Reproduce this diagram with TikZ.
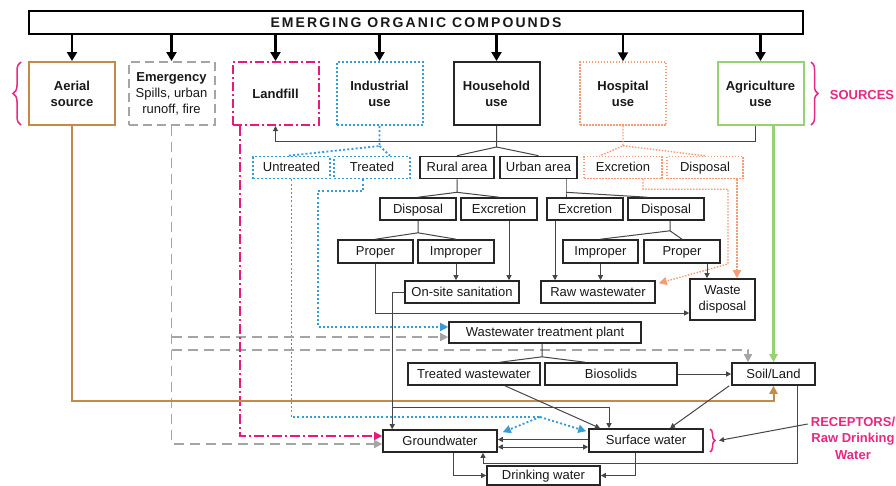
\documentclass[tikz,border=0pt]{standalone}
\usepackage{fontspec}
\setmainfont{Liberation Sans}
\usetikzlibrary{arrows.meta,decorations.pathreplacing}

\definecolor{aercol}{RGB}{196,138,72}
\definecolor{emcol}{RGB}{165,165,165}
\definecolor{lfcol}{RGB}{232,25,125}
\definecolor{indcol}{RGB}{55,155,215}
\definecolor{hospcol}{RGB}{246,155,120}
\definecolor{agcol}{RGB}{150,210,115}
\definecolor{labcol}{RGB}{232,40,130}
\definecolor{linecol}{RGB}{70,70,70}

\begin{document}
\begin{tikzpicture}[x=1pt,y=-1pt,
  every node/.style={font=\fontsize{13}{16}\selectfont, text=black!90},
  srcbox/.style={draw, line width=2pt, inner sep=0pt, align=center,
    minimum width=86pt, minimum height=63pt, font=\fontsize{13}{16}\selectfont\bfseries},
  box/.style={draw=black!85, line width=1.6pt, inner sep=0pt, minimum height=22pt,
    text height=10.5pt, text depth=2pt},
  multibox/.style={draw=black!85, line width=1.6pt, inner sep=0pt, align=center},
  indbox/.style={box, draw=indcol, line width=1.6pt, dash pattern=on 2pt off 2pt},
  hospbox/.style={box, draw=hospcol, line width=1.4pt, dash pattern=on 1.5pt off 1.5pt},
  conn/.style={draw=linecol, line width=1pt},
  smalltip/.style={-{Triangle[length=5pt,width=5pt]}},
  bothtips/.style={{Triangle[length=5pt,width=5pt]}-{Triangle[length=5pt,width=5pt]}},
  bigtip/.style={-{Triangle[length=8pt,width=8pt]}},
  toparrow/.style={draw=black, line width=2.2pt, -{Triangle[length=9pt,width=10pt]}},
  emline/.style={draw=emcol, line width=1.6pt, dash pattern=on 10pt off 6pt},
  lfline/.style={draw=lfcol, line width=1.6pt, dash pattern=on 10pt off 3pt on 2pt off 3pt},
  indline/.style={draw=indcol, line width=1.8pt, dash pattern=on 2pt off 2.2pt},
  hospline/.style={draw=hospcol, line width=1.4pt, dash pattern=on 1.5pt off 1.5pt},
  aerline/.style={draw=aercol, line width=2pt},
  agline/.style={draw=agcol, line width=2.2pt},
  pinkbrace/.style={draw=labcol, line width=1.5pt, decorate, decoration={brace, amplitude=#1}},
  labeltext/.style={text=labcol, font=\fontsize{13}{16.5}\selectfont\bfseries, align=center, inner sep=0pt},
]
\fill[white] (0,0) rectangle (896,485);
\useasboundingbox (0,0) rectangle (896,485);

% ---------- title ----------
\node[draw, line width=1.8pt, inner sep=0pt, minimum width=774pt, minimum height=23pt] (title) at (416,22.5)
  {\fontsize{14}{16}\selectfont\bfseries\addfontfeature{LetterSpace=15}EMERGING ORGANIC COMPOUNDS};

% ---------- sources ----------
\node[srcbox, draw=aercol] (aerial) at (72,93.5) {Aerial\\source};
\node[srcbox, draw=emcol, dash pattern=on 9pt off 5pt, font=\fontsize{13}{16}\selectfont] (emerg) at (171.5,93.5)
  {\textbf{Emergency}\\Spills, urban\\runoff, fire};
\node[srcbox, draw=lfcol, dash pattern=on 9pt off 3pt on 2pt off 3pt] (landfill) at (275.5,93.5) {Landfill};
\node[srcbox, draw=indcol, dash pattern=on 2pt off 2pt] (industrial) at (379.5,93.5) {Industrial\\use};
\node[srcbox, draw=black!85] (household) at (496.5,93.5) {Household\\use};
\node[srcbox, draw=hospcol, line width=1.5pt, dash pattern=on 1.5pt off 1.5pt] (hospital) at (623,93.5) {Hospital\\use};
\node[srcbox, draw=agcol] (agri) at (760.5,93.5) {Agriculture\\use};

\foreach \n in {aerial,emerg,landfill,industrial,household,hospital,agri}
  \draw[toparrow] (title.south -| \n.north) -- (\n.north);

\draw[pinkbrace=8pt] (21,125) -- (21,62);
\draw[pinkbrace=7pt] (811,62) -- (811,125);
\node[labeltext] (sources) at (862,95) {SOURCES};

% ---------- first split ----------
\node[indbox, minimum width=77pt] (untreated) at (291.5,167.5) {Untreated};
\node[indbox, minimum width=76pt] (treated) at (372,167.5) {Treated};
\node[box, minimum width=74pt] (rural) at (457,167.5) {Rural area};
\node[box, minimum width=77pt] (urban) at (538.5,167.5) {Urban area};
\node[hospbox, minimum width=78pt] (hexc) at (623,167.5) {Excretion};
\node[hospbox, minimum width=76pt] (hdisp) at (705,167.5) {Disposal};

% ---------- second split ----------
\node[box, minimum width=76pt] (rdisp) at (418,209) {Disposal};
\node[box, minimum width=76pt] (rexc) at (499,209) {Excretion};
\node[box, minimum width=76pt] (uexc) at (585,209) {Excretion};
\node[box, minimum width=76pt] (udisp) at (666,209) {Disposal};

% ---------- third split ----------
\node[box, minimum width=75pt, minimum height=23pt] (rproper) at (375.5,251.5) {Proper};
\node[box, minimum width=76pt, minimum height=23pt] (rimproper) at (456,251.5) {Improper};
\node[box, minimum width=75pt, minimum height=23pt] (uimproper) at (600.5,251.5) {Improper};
\node[box, minimum width=76pt, minimum height=23pt] (uproper) at (682,251.5) {Proper};

% ---------- collection ----------
\node[box, minimum width=114pt] (onsite) at (462,292) {On-site sanitation};
\node[box, minimum width=114pt] (raw) at (598,292) {Raw wastewater};
\node[multibox, minimum width=65pt, minimum height=41pt] (wastedisp) at (722.5,299.5) {Waste\\disposal};
\node[box, minimum width=192pt, minimum height=21pt] (wwtp) at (545,332.5) {Wastewater treatment plant};
\node[box, minimum width=132pt] (treatedww) at (474,374) {Treated wastewater};
\node[box, minimum width=132pt] (bio) at (611,374) {Biosolids};
\node[box, minimum width=83pt] (soil) at (773.5,374) {Soil/Land};

% ---------- receptors ----------
\node[box, minimum width=114pt] (gw) at (440,441) {Groundwater};
\node[box, minimum width=114pt, minimum height=23pt] (sw) at (646,440.5) {Surface water};
\node[box, minimum width=113pt, minimum height=19pt] (dw) at (543.5,475.5) {Drinking water};

\draw[pinkbrace=5pt] (710,429) -- (710,452);
\coordinate (rtip) at (719,440.5);
\node[labeltext] (receptors) at (853,438) {RECEPTORS/\\Raw Drinking\\Water};
\draw[conn, smalltip] ([xshift=-3pt,yshift=14pt]receptors.west) -- (rtip);

% ---------- household branch ----------
\coordinate (hsplit) at ([yshift=-21pt]household.south);
\draw[conn] (household.south) -- (hsplit) -- (rural.north);
\draw[conn] (hsplit) -- (urban.north);
\draw[conn, smalltip] ([xshift=-5.5pt]agri.south) -- ++(0,15) -| (landfill.south);

\coordinate (rsplit) at ([yshift=-13pt]rural.south);
\draw[conn] (rural.south) -- (rsplit) -- (rdisp.north);
\draw[conn] (rsplit) -- (rexc.north);
\coordinate (usplit) at ([xshift=27.5pt,yshift=-13pt]urban.south);
\draw[conn] (usplit |- urban.south) -- (usplit) -- ([xshift=-19pt]uexc.north);
\draw[conn] (usplit) -- ([xshift=-19pt]udisp.north);

\coordinate (rdsplit) at ([yshift=-12pt]rdisp.south);
\draw[conn] (rdisp.south) -- (rdsplit) -- (rproper.north);
\draw[conn] (rdsplit) -- (rimproper.north);
\coordinate (udsplit) at ([xshift=4pt,yshift=-10pt]udisp.south);
\draw[conn] (udsplit |- udisp.south) -- (udsplit) -- (uimproper.north);
\draw[conn] (udsplit) -- (uproper.north);

\draw[conn, smalltip] (rimproper.south) -- (rimproper.south |- onsite.north);
\draw[conn, smalltip] ([xshift=10pt]rexc.south) -- ([xshift=10pt]rexc.south |- onsite.north);
\draw[conn, smalltip] (rproper.south) |- ([yshift=-13.5pt]wastedisp.west);
\draw[conn, smalltip] ([xshift=-30pt]uexc.south) -- ([xshift=-30pt]uexc.south |- raw.north);
\draw[conn, smalltip] (uimproper.south) -- (uimproper.south |- raw.north);
\draw[conn, smalltip] ([xshift=25pt]uproper.south) -- ([xshift=25pt]uproper.south |- wastedisp.north);

% ---------- industrial branch ----------
\coordinate (isplit) at ([yshift=-20pt]industrial.south);
\draw[indline] (industrial.south) -- (isplit) -- ([xshift=-3pt]untreated.north);
\draw[indline] (isplit) -- ([xshift=18pt]treated.north);
\coordinate (usp) at (540,417);
\draw[indline] (untreated.south) |- (usp);
\draw[indline, bigtip] (usp) -- ([xshift=5pt,yshift=-3pt]gw.north east);
\draw[indline, bigtip] (usp) -- ([xshift=-2pt,yshift=-3pt]sw.north west);
\coordinate (tbend) at (318,191);
\draw[indline, bigtip] ([xshift=-9pt]treated.south) |- (tbend) |- ([yshift=5.5pt]wwtp.west);

% ---------- hospital branch ----------
\coordinate (hsp) at ([yshift=-20pt]hospital.south);
\draw[hospline] (hospital.south) -- (hsp) -- ([xshift=-23pt]hexc.north);
\draw[hospline] (hsp) -- (hdisp.north);
\coordinate (hbend) at (728,264);
\draw[hospline, bigtip] ([xshift=20pt]hexc.south) -- ++(0,10) -| (hbend) -- ([xshift=3pt,yshift=-3pt]raw.north east);
\draw[hospline, bigtip] ([xshift=32pt]hdisp.south) -- ([xshift=32pt]hdisp.south |- wastedisp.north);

% ---------- emergency, landfill, aerial, agriculture ----------
\draw[emline, bigtip] (emerg.south) |- ([yshift=-3pt]gw.west);
\draw[emline, bigtip] ([yshift=-4.5pt]wwtp.west -| emerg.south) -- ([yshift=-4.5pt]wwtp.west);
\draw[emline, bigtip] ([yshift=-17.5pt]wwtp.west -| emerg.south) -| ([xshift=-25.5pt]soil.north);
\draw[lfline, bigtip] ([xshift=-35.5pt]landfill.south) |- ([yshift=5pt]gw.west);
\coordinate (aerrow) at (0,401);
\draw[aerline, bigtip] (aerial.south) |- (aerrow -| soil.south) -- (soil.south);
\draw[agline, bigtip] (agri.south -| soil.north) -- (soil.north);

% ---------- treatment and receptors ----------
\coordinate (wsplit) at ([xshift=-3pt,yshift=-13pt]wwtp.south);
\draw[conn] (wsplit |- wwtp.south) -- (wsplit) -- ([xshift=26pt]treatedww.north);
\draw[conn] (wsplit) -- ([xshift=-26pt]bio.north);
\draw[conn, smalltip] (bio.east) -- (soil.west);
\draw[conn, smalltip] ([xshift=31pt]treatedww.south) -- ([xshift=-46pt]sw.north);
\draw[conn, smalltip] ([xshift=-2pt]soil.south west) -- ([xshift=24pt]sw.north);

\coordinate (osx) at ([xshift=-12pt]onsite.west);
\coordinate (osrow) at (0,407);
\draw[conn, smalltip] (onsite.west) -- (osx) -- (osx |- gw.north);
\draw[conn, smalltip] (osx |- osrow) -| ([xshift=-37pt]sw.north);

\coordinate (loop) at (0,463);
\draw[conn, smalltip] ([xshift=23.5pt]soil.south) |- ([xshift=43pt]gw.south |- loop) -- ([xshift=43pt]gw.south);
\draw[conn, smalltip] ([yshift=1pt]sw.west) -- ([yshift=1pt]sw.west -| gw.east);
\draw[conn, bothtips] ([yshift=-6pt]gw.east) -- ([yshift=-6pt]gw.east -| sw.west);
\draw[conn, smalltip] ([xshift=13pt]gw.south) |- (dw.west);
\draw[conn, smalltip] ([xshift=-11pt]sw.south) |- (dw.east);
\end{tikzpicture}
\end{document}
